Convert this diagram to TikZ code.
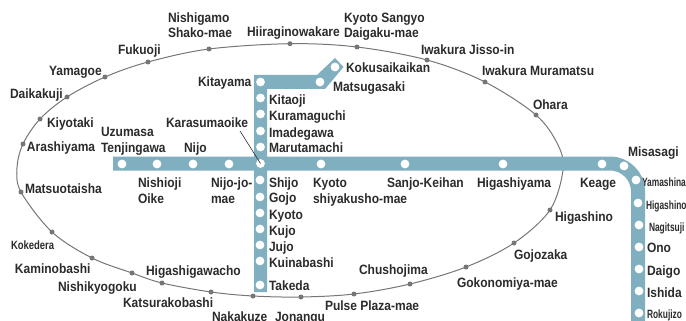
\documentclass[tikz,border=0pt]{standalone}
\usepackage{fontspec}
\setmainfont{Liberation Sans}[BoldFont={Liberation Sans Bold}]
\newfontfamily\narrowfont{Liberation Sans Bold}[FakeStretch=0.89]
\newfontfamily\midfont{Liberation Sans Bold}[FakeStretch=0.79]
\newfontfamily\tightfont{Liberation Sans Bold}[FakeStretch=0.70]
\definecolor{railblue}{HTML}{80AFC0}
\definecolor{ringgray}{HTML}{767676}
\definecolor{labelink}{HTML}{2B2B2B}
\tikzset{
  lab/.style={anchor=base west,inner sep=0pt,outer sep=0pt,text=labelink,font=\narrowfont\fontsize{13.5}{16}\selectfont,align=left},
  midlab/.style={lab,font=\midfont\fontsize{12}{14}\selectfont},
  smalllab/.style={lab,font=\tightfont\fontsize{12}{14}\selectfont},
  ringstop/.style={circle,fill=ringgray,draw=none,inner sep=0pt,minimum size=5pt},
  railstop/.style={circle,fill=white,draw=none,inner sep=0pt,minimum size=8.8pt},
  ringline/.style={draw=ringgray,line width=1pt},
  railfill/.style={fill=railblue,draw=none},
  railline/.style={draw=railblue,line width=14pt,line cap=butt},
  leader/.style={draw=labelink,line width=0.6pt}
}
\begin{document}
\begin{tikzpicture}[x=1pt,y=-1pt]
\useasboundingbox (0,0) rectangle (686,321);
\clip (0,0) rectangle (686,321);
% ring line
\draw[ringline] plot[smooth cycle,tension=0.55] coordinates {
 (290,43.7)(357,47)(427,60)(485,82)(536,115)(558,145)(563,170)(550,210)(514,243)(466,267)
 (410,284)(354,294)(301,297)(253,296)(211,292)(162,283)(132,273)(92,258)(52,232)(21,192)
 (17,168)(23,144)(40,119)(67,97)(105,77)(148,62)(209,49)};
\foreach \n/\p in {
 r1/{290,43.7},r2/{357,47},r3/{427,60},r4/{485,82},r5/{536,115},
 r6/{550,210},r7/{514,243},r8/{466,267},r9/{410,284},r10/{354,294},
 r11/{301,297},r12/{253,296},r13/{211,292},r14/{162,283},r15/{132,273},
 r16/{92,258},r17/{52,232},r18/{21,192},r19/{23,144},r20/{40,119},
 r21/{67,97},r22/{105,77},r23/{148,62},r24/{209,49}}
 {\node[ringstop] (\n) at (\p) {};}
% rail bands
\fill[railfill] (254,75) -- (317,75) -- (335,58) -- (343.5,67) -- (325,89) -- (267,89) -- (267,292) -- (254,292) -- cycle;
\draw[railline] (113,163.5) -- (610,163.5) arc[start angle=-90,end angle=0,radius=28] -- (638,325);
% rail stops
\foreach \n/\p in {
 a1/{122,164},a2/{157,164},a3/{193,164},a4/{229,164},j/{260.5,163.5},a6/{321,164},a7/{405,164},a8/{503,164},a9/{602,164},
 a10/{624,166},a11/{636,180},b1/{638,203},b2/{639,225},b3/{639,247},b4/{639,269},b5/{639,291},b6/{639,313},
 v1/{260.5,82},v2/{260.5,98},v3/{260.5,114},v4/{260.5,131},v5/{260.5,147},
 w1/{260,180},w2/{260,197},w3/{260,213},w4/{260,229},w5/{260,245},w6/{260,261},w7/{260,285},
 k1/{320,82},k2/{335,67}}
 {\node[railstop] (\n) at (\p) {};}
% labels
\node[lab] (t1) at (168,38) {Nishigamo\\Shako-mae};
\node[lab] (t2) at (247,37) {Hiiraginowakare};
\node[lab] (t3) at (118,55) {Fukuoji};
\node[lab] (t4) at (49,76) {Yamagoe};
\node[lab] (t5) at (10,99) {Daikakuji};
\node[lab] (t6) at (47,128) {Kiyotaki};
\node[lab] (t7) at (27,151) {Arashiyama};
\node[lab] (t8) at (101,152) {Uzumasa\\Tenjingawa};
\node[lab] (t9) at (184,152) {Nijo};
\node[lab] (kar) at (166,128) {Karasumaoike};
\node[lab] (t11) at (198,87) {Kitayama};
\node[lab] (t12) at (269,104) {Kitaoji};
\node[lab] (t13) at (269,121) {Kuramaguchi};
\node[lab] (t14) at (269,137) {Imadegawa};
\node[lab] (t15) at (269,152) {Marutamachi};
\node[lab] (t16) at (346,73) {Kokusaikaikan};
\node[lab] (t17) at (333,92) {Matsugasaki};
\node[lab] (t18) at (344,38) {Kyoto Sangyo\\Daigaku-mae};
\node[lab] (t19) at (421,55) {Iwakura Jisso-in};
\node[lab] (t20) at (482,76) {Iwakura Muramatsu};
\node[lab] (t21) at (533,110) {Ohara};
\node[lab] (t22) at (628,157) {Misasagi};
\node[lab] (t23) at (25,193) {Matsuotaisha};
\node[midlab] (t24) at (11,249) {Kokedera};
\node[lab] (t25) at (15,273) {Kaminobashi};
\node[lab] (t26) at (58,291) {Nishikyogoku};
\node[lab] (t27) at (146,275) {Higashigawacho};
\node[lab] (t28) at (123,307) {Katsurakobashi};
\node[lab] (t29) at (212,321) {Nakakuze};
\node[lab] (t30) at (275,321) {Jonangu};
\node[lab] (t31) at (325,310) {Pulse Plaza-mae};
\node[lab] (t32) at (138,203) {Nishioji\\Oike};
\node[lab] (t33) at (211,203) {Nijo-jo-\\mae};
\node[lab] (t34) at (269,187) {Shijo};
\node[lab] (t35) at (269,202) {Gojo};
\node[lab] (t36) at (269,219) {Kyoto};
\node[lab] (t37) at (269,235) {Kujo};
\node[lab] (t38) at (269,251) {Jujo};
\node[lab] (t39) at (269,267) {Kuinabashi};
\node[lab] (t40) at (269,290) {Takeda};
\node[lab] (t41) at (313,203) {Kyoto\\shiyakusho-mae};
\node[lab] (t42) at (387,187) {Sanjo-Keihan};
\node[lab] (t43) at (477,187) {Higashiyama};
\node[lab] (t44) at (580,187) {Keage};
\node[lab] (t45) at (555,221) {Higashino};
\node[lab] (t46) at (514,259) {Gojozaka};
\node[lab] (t47) at (457,287) {Gokonomiya-mae};
\node[lab] (t48) at (359,274) {Chushojima};
\node[smalllab] (t49) at (642,186) {Yamashina};
\node[smalllab] (t50) at (646,209) {Higashino};
\node[smalllab] (t51) at (649,231) {Nagitsuji};
\node[lab] (t52) at (647,252) {Ono};
\node[lab] (t53) at (647,275) {Daigo};
\node[lab] (t54) at (647,297) {Ishida};
\node[smalllab] (t55) at (647,318) {Rokujizo};
\coordinate (karend) at (240,131);
\draw[leader] (karend) -- (j.center);
\end{tikzpicture}
\end{document}
